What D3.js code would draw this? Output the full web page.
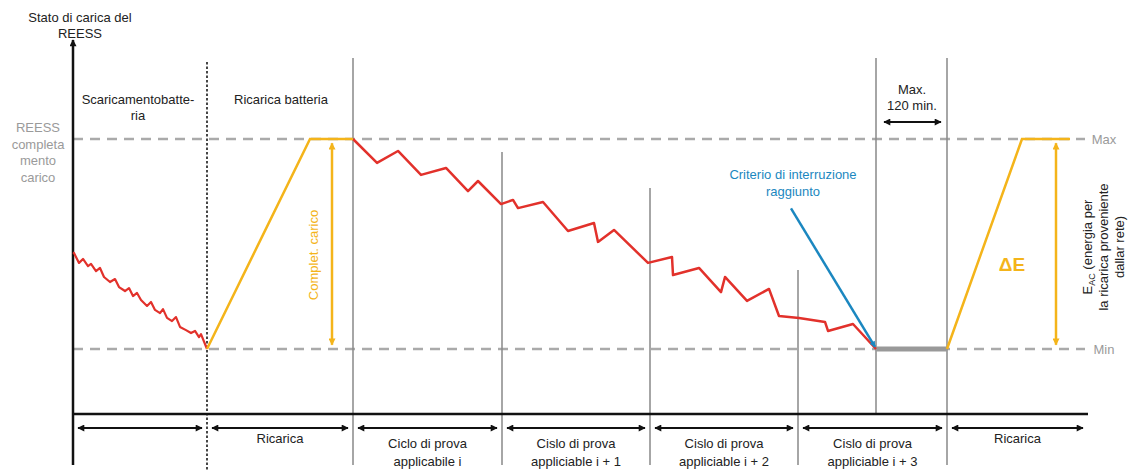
<!DOCTYPE html>
<html lang="it">
<head>
<meta charset="UTF-8">
<title>Stato di carica del REESS</title>
<script src="https://d3js.org/d3.v7.min.js"></script>
<style>
    body { margin: 0; background: #fff; overflow: hidden; }
    svg text { font-family: "Liberation Sans", Arial, sans-serif; }
    .lbl { font-size: 13px; fill: #222; }
    .grey { font-size: 13px; fill: #9a9a9a; }
</style>
</head>
<body>
<div id="chart"></div>
<script>
    // time (arbitrary units) and state of charge (0 = Min, 100 = Max)
    const dischargeT = [0, 1, 6, 10, 15, 18, 23, 27, 31, 37, 42, 46, 52, 56, 60, 64, 68, 74, 78, 82, 87, 90, 94, 99, 103, 107, 113, 118, 122, 126, 128, 134];
    const dischargeSoc = [46, 45.7, 41, 42.9, 39.5, 40.5, 37.1, 38.6, 34.3, 31.9, 33.3, 29.5, 27.6, 29, 25.2, 26.7, 23.3, 20.5, 22.4, 18.6, 17.1, 19, 14.8, 13.3, 15.2, 10.5, 9, 7.6, 8.6, 5.7, 7.1, 0];

    const charge1T = [134, 237, 280];
    const charge1Soc = [0, 100, 100];

    const cycleT = [280, 304, 325, 348, 373, 395, 405, 428, 440, 445, 470, 495, 521, 525, 541, 575, 599, 600, 626, 648, 652, 674, 696, 706, 726, 752, 755, 780, 803];
    const cycleSoc = [100, 88.6, 94.3, 82.9, 86.2, 75.2, 80, 69, 71, 67.1, 70, 56.2, 60, 51, 56.7, 41, 43.8, 35.2, 38.6, 27.1, 34.3, 22.9, 28.6, 15.7, 14.8, 12.9, 8.6, 11.9, 0];

    const restT = [803, 874];
    const restSoc = [0, 0];

    const charge2T = [874, 949, 997];
    const charge2Soc = [0, 100, 100];

    // phase boundaries and how high each boundary line reaches (SOC units)
    const boundaryT = [280, 429, 577, 725, 803, 874];
    const boundaryTop = [138.6, 93.8, 76.7, 37.6, 138.6, 138.6];
    const boundaryBelowAxis = [true, true, true, true, false, true];
    const dottedT = 134;

    const segmentT = [0, 134, 280, 429, 577, 725, 874, 1015];
    const segmentLabels = [
        [],
        ["Ricarica"],
        ["Ciclo di prova", "applicabile i"],
        ["Cislo di prova", "appliciable i + 1"],
        ["Cislo di prova", "appliciable i + 2"],
        ["Cislo di prova", "appliciable i + 3"],
        ["Ricarica"]
    ];

    const width = 1145, height = 475;
    const x = d3.scaleLinear().domain([0, 1015]).range([73, 1088]);
    const y = d3.scaleLinear().domain([0, 100]).range([349, 139]);
    const axisY = 414, bottomY = 465;

    const svg = d3.select("#chart").append("svg")
        .attr("width", width).attr("height", height);

    const defs = svg.append("defs");
    function marker(id, color, w, h) {
        defs.append("marker").attr("id", id)
            .attr("viewBox", "0 0 10 10").attr("refX", 9).attr("refY", 5)
            .attr("markerWidth", w).attr("markerHeight", h)
            .attr("markerUnits", "userSpaceOnUse")
            .attr("orient", "auto-start-reverse")
            .append("path").attr("d", "M0,0 L10,5 L0,10 z").attr("fill", color);
    }
    marker("ab", "#111", 9, 7);
    marker("ay", "#f4b41a", 8, 7);
    marker("abl", "#1b87c0", 7, 6);

    const yellow = "#f4b41a", red = "#e2312b", blue = "#1b87c0";

    // dashed Max / Min reference lines
    [0, 100].forEach(v => {
        svg.append("line")
            .attr("x1", x(0)).attr("x2", x(1012))
            .attr("y1", y(v)).attr("y2", y(v))
            .attr("stroke", "#aaa").attr("stroke-width", 2.5)
            .attr("stroke-dasharray", "10,7");
    });

    // boundary lines
    svg.selectAll(".bnd").data(boundaryT).enter().append("line")
        .attr("class", "bnd")
        .attr("x1", d => x(d)).attr("x2", d => x(d))
        .attr("y1", (d, i) => y(boundaryTop[i]))
        .attr("y2", (d, i) => boundaryBelowAxis[i] ? bottomY : axisY)
        .attr("stroke", "#888").attr("stroke-width", 1.5);

    svg.append("line")
        .attr("x1", x(dottedT)).attr("x2", x(dottedT))
        .attr("y1", 62).attr("y2", 470)
        .attr("stroke", "#333").attr("stroke-width", 1.8)
        .attr("stroke-dasharray", "2.5,2");

    // axes
    svg.append("line").attr("x1", x(0)).attr("x2", x(0))
        .attr("y1", bottomY).attr("y2", 40)
        .attr("stroke", "#111").attr("stroke-width", 2.5)
        .attr("marker-end", "url(#ab)");
    svg.append("line").attr("x1", x(0)).attr("x2", x(1015))
        .attr("y1", axisY).attr("y2", axisY)
        .attr("stroke", "#111").attr("stroke-width", 2.5);

    const line = d3.line().x(d => x(d[0])).y(d => y(d[1]));
    const zip = (a, b) => a.map((v, i) => [v, b[i]]);

    svg.append("path").datum(zip(restT, restSoc)).attr("d", line)
        .attr("fill", "none").attr("stroke", "#999").attr("stroke-width", 5);
    svg.append("path").datum(zip(dischargeT, dischargeSoc)).attr("d", line)
        .attr("fill", "none").attr("stroke", red).attr("stroke-width", 2.2)
        .attr("stroke-linejoin", "round");
    svg.append("path").datum(zip(cycleT, cycleSoc)).attr("d", line)
        .attr("fill", "none").attr("stroke", red).attr("stroke-width", 2.5)
        .attr("stroke-linejoin", "round");
    [zip(charge1T, charge1Soc), zip(charge2T, charge2Soc)].forEach(p => {
        svg.append("path").datum(p).attr("d", line)
            .attr("fill", "none").attr("stroke", yellow).attr("stroke-width", 2.5);
    });

    // yellow double arrows
    [259, 983].forEach(t => {
        svg.append("line").attr("x1", x(t)).attr("x2", x(t))
            .attr("y1", y(98)).attr("y2", y(2))
            .attr("stroke", yellow).attr("stroke-width", 2.5)
            .attr("marker-start", "url(#ay)").attr("marker-end", "url(#ay)");
    });

    // blue pointer
    svg.append("line").attr("x1", x(718)).attr("y1", y(67))
        .attr("x2", x(802)).attr("y2", y(1))
        .attr("stroke", blue).attr("stroke-width", 2.5)
        .attr("marker-end", "url(#abl)");

    // bottom segment arrows and labels
    const segs = d3.range(segmentT.length - 1);
    svg.selectAll(".seg").data(segs).enter().append("line")
        .attr("x1", i => x(segmentT[i]) + 5).attr("x2", i => x(segmentT[i + 1]) - 5)
        .attr("y1", 428).attr("y2", 428)
        .attr("stroke", "#111").attr("stroke-width", 2)
        .attr("marker-start", "url(#ab)").attr("marker-end", "url(#ab)");

    segs.forEach(i => {
        const cx = (x(segmentT[i]) + x(segmentT[i + 1])) / 2;
        const lines = segmentLabels[i];
        const t = svg.append("text").attr("class", "lbl").attr("text-anchor", "middle");
        lines.forEach((s, k) => {
            t.append("tspan").attr("x", cx)
                .attr("y", lines.length === 1 ? 443 : 448 + k * 18).text(s);
        });
    });

    // texts
    function multi(lines, cx, y0, dy, cls, color) {
        const t = svg.append("text").attr("class", cls).attr("text-anchor", "middle");
        if (color) t.style("fill", color);
        lines.forEach((s, k) => t.append("tspan").attr("x", cx).attr("y", y0 + k * dy).text(s));
        return t;
    }
    multi(["Stato di carica del", "REESS"], 80, 22, 16, "lbl");
    multi(["Scaricamentobatte-", "ria"], 138, 104, 16, "lbl");
    svg.append("text").attr("class", "lbl").attr("x", 281).attr("y", 104)
        .attr("text-anchor", "middle").text("Ricarica batteria");
    multi(["REESS", "completa", "mento", "carico"], 38, 132, 16.5, "grey");
    svg.append("text").attr("class", "grey").attr("x", 1104).attr("y", y(100) + 5)
        .attr("text-anchor", "middle").text("Max");
    svg.append("text").attr("class", "grey").attr("x", 1104).attr("y", y(0) + 5)
        .attr("text-anchor", "middle").text("Min");
    multi(["Max.", "120 min."], 912, 94, 16, "lbl");
    svg.append("line").attr("x1", 884).attr("x2", 941)
        .attr("y1", 122).attr("y2", 122)
        .attr("stroke", "#111").attr("stroke-width", 2)
        .attr("marker-start", "url(#ab)").attr("marker-end", "url(#ab)");
    multi(["Criterio di interruzione", "raggiunto"], 793, 179, 17, "lbl", blue);

    svg.append("text").attr("transform", "translate(318,255) rotate(-90)")
        .attr("text-anchor", "middle").attr("font-size", 13).attr("fill", yellow)
        .text("Complet. carico");
    svg.append("text").attr("x", 1012).attr("y", 271)
        .attr("text-anchor", "middle").attr("font-size", 19).attr("font-weight", "bold")
        .attr("fill", yellow).text("ΔE");

    const eac = svg.append("text").attr("transform", "translate(1092,247) rotate(-90)")
        .attr("text-anchor", "middle").attr("class", "lbl");
    const l1 = eac.append("tspan").attr("x", 0).attr("y", 0);
    l1.append("tspan").text("E");
    l1.append("tspan").attr("font-size", 9).attr("dy", 3).text("AC");
    l1.append("tspan").attr("dy", -3).text(" (energia per");
    eac.append("tspan").attr("x", 0).attr("y", 16).text("la ricarica proveniente");
    eac.append("tspan").attr("x", 0).attr("y", 32).text("dallar rete)");
</script>
</body>
</html>
